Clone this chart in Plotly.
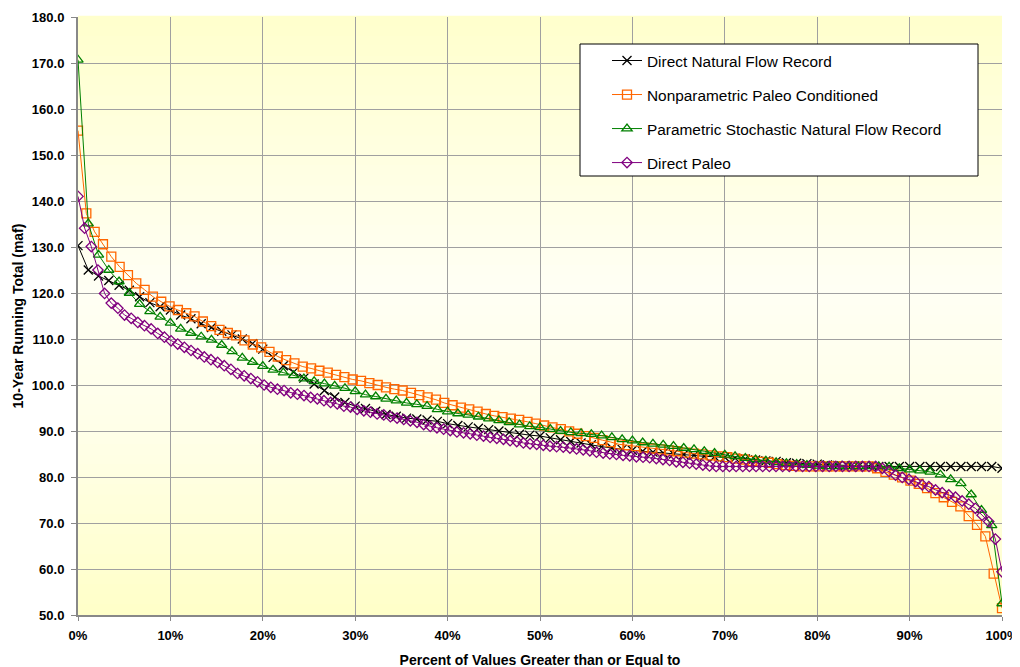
import plotly.graph_objects as go

# ---------------- data ----------------
x_tick_vals = [0, 10, 20, 30, 40, 50, 60, 70, 80, 90, 100]
x_tick_text = ["0%", "10%", "20%", "30%", "40%", "50%", "60%", "70%", "80%", "90%", "100%"]
y_tick_vals = [50, 60, 70, 80, 90, 100, 110, 120, 130, 140, 150, 160, 170, 180]

series_names = [
    "Direct Natural Flow Record",
    "Nonparametric Paleo Conditioned",
    "Parametric Stochastic Natural Flow Record",
    "Direct Paleo",
]

direct_natural = [
    130.3, 125.0, 123.7, 122.7, 121.7, 120.6, 119.2, 117.9, 117.0, 116.3,
    115.2, 114.4, 113.3, 112.5, 111.7, 110.9, 110.0, 109.0, 107.8, 106.0,
    104.2, 102.8, 101.5, 100.2, 98.8, 97.4, 96.2, 95.4, 94.9, 94.3,
    93.6, 93.2, 92.8, 92.6, 92.4, 92.1, 91.6, 91.2, 90.9, 90.6,
    90.3, 90.0, 89.7, 89.3, 89.1, 88.9, 88.5, 88.1, 87.7, 87.4,
    87.0, 86.6, 86.3, 86.0, 85.8, 85.6, 85.4, 85.2, 85.0, 84.9,
    84.7, 84.5, 84.4, 84.3, 84.1, 83.9, 83.7, 83.5, 83.4, 83.1,
    83.0, 82.9, 82.8, 82.6, 82.5, 82.4, 82.3, 82.3, 82.3, 82.3,
    82.3, 82.3, 82.3, 82.3, 82.3, 82.3, 82.3, 82.3, 82.3, 82.3,
    81.9,
]

nonparametric_paleo = [
    155.3, 137.3, 133.3, 130.6, 127.9, 125.7, 123.9, 122.1, 120.7, 119.2,
    118.1, 117.1, 116.3, 115.6, 114.9, 113.8, 112.8, 112.0, 111.3, 110.8,
    109.7, 108.8, 108.2, 107.2, 106.2, 105.4, 104.7, 104.0, 103.6, 103.1,
    102.7, 102.2, 101.7, 101.2, 100.9, 100.4, 100.0, 99.5, 99.1, 98.8,
    98.3, 97.8, 97.3, 96.8, 96.1, 95.6, 95.1, 94.7, 94.2, 93.7,
    93.3, 93.0, 92.7, 92.4, 92.0, 91.6, 91.2, 90.8, 90.4, 89.9,
    89.4, 88.9, 88.5, 88.0, 87.6, 87.1, 86.9, 86.7, 86.4, 86.2,
    86.0, 85.8, 85.6, 85.3, 85.1, 84.9, 84.7, 84.5, 84.3, 84.0,
    83.8, 83.5, 83.3, 83.1, 82.8, 82.6, 82.4, 82.3, 82.3, 82.3,
    82.3, 82.3, 82.3, 82.3, 82.3, 82.3, 81.9, 81.1, 80.5, 79.9,
    79.2, 78.5, 77.6, 76.5, 75.6, 74.6, 73.6, 71.5, 69.6, 67.1,
    59.0, 51.5,
]

parametric_stochastic = [
    170.7, 135.1, 128.3, 125.0, 122.5, 120.0, 117.6, 116.0, 114.8, 113.5,
    112.2, 111.3, 110.5, 109.8, 108.7, 107.3, 105.9, 105.0, 104.1, 103.3,
    102.7, 102.1, 101.4, 100.8, 100.3, 99.8, 99.3, 98.6, 97.9, 97.5,
    97.0, 96.6, 96.1, 95.8, 95.4, 94.7, 94.2, 93.8, 93.5, 93.1,
    92.7, 92.3, 91.9, 91.4, 91.0, 90.8, 90.4, 90.0, 89.7, 89.5,
    89.3, 89.0, 88.6, 88.2, 87.9, 87.5, 87.2, 87.0, 86.7, 86.3,
    86.0, 85.6, 85.2, 84.8, 84.5, 84.1, 83.8, 83.5, 83.2, 83.0,
    82.8, 82.6, 82.4, 82.3, 82.3, 82.3, 82.3, 82.3, 82.3, 82.2,
    81.9, 81.6, 81.4, 81.1, 80.5, 79.5, 78.6, 76.2, 72.8, 69.5,
    52.5,
]

direct_paleo = [
    141.0, 134.1, 130.1, 125.0, 119.9, 117.8, 116.7, 115.2, 114.5, 113.6,
    112.9, 112.2, 111.2, 110.4, 109.6, 108.9, 108.2, 107.5, 106.8, 106.1,
    105.5, 104.9, 104.2, 103.4, 102.5, 102.0, 101.4, 100.7, 100.0, 99.5,
    99.1, 98.8, 98.3, 98.0, 97.7, 97.3, 97.0, 96.6, 96.2, 95.9,
    95.4, 95.2, 94.7, 94.4, 94.1, 93.7, 93.5, 93.1, 92.8, 92.5,
    92.2, 91.9, 91.4, 91.0, 90.7, 90.4, 90.1, 89.8, 89.6, 89.4,
    89.1, 88.9, 88.6, 88.4, 88.2, 87.9, 87.7, 87.4, 87.2, 87.1,
    86.9, 86.7, 86.6, 86.5, 86.3, 86.1, 85.9, 85.7, 85.4, 85.2,
    85.0, 84.9, 84.7, 84.6, 84.4, 84.3, 84.2, 84.0, 83.8, 83.6,
    83.3, 83.2, 83.0, 82.8, 82.6, 82.4,
    82.3, 82.3, 82.3, 82.3, 82.3, 82.3, 82.3, 82.3, 82.3, 82.3,
    82.3, 82.3, 82.3, 82.3, 82.3, 82.3, 82.3, 82.3, 82.3, 82.3,
    82.3, 82.3, 82.3, 82.3, 82.3,
    81.9, 81.2, 80.4, 79.9, 79.5, 79.0, 78.3, 77.9, 77.2, 76.6,
    76.1, 75.6, 74.8, 74.1, 73.2, 71.7, 70.3, 66.5, 59.4,
]

series_values = [direct_natural, nonparametric_paleo, parametric_stochastic, direct_paleo]

# ---------------- styles ----------------
colors = ["#000000", "#FF6600", "#008000", "#800080"]
symbols = ["x-thin-open", "square-open", "triangle-up-open", "diamond-open"]
sizes = [9, 9, 9, 8]
FONT = "Arial, 'Liberation Sans', sans-serif"

# the page body has an 8px margin, so figure coords = page coords - 8
OFF = 8
W, H = 1020, 667
L, T = 78 - OFF, 17 - OFF
R = W - (1002 - OFF)
B = H - (615 - OFF)
PW, PH = W - L - R, H - T - B


def percent_positions(n):
    return [i * 100.0 / (n - 1) for i in range(n)]


fig = go.Figure()
for name, vals, col, sym, sz in zip(series_names, series_values, colors, symbols, sizes):
    fig.add_trace(go.Scatter(
        x=percent_positions(len(vals)), y=vals, name=name, mode="lines+markers",
        line=dict(color=col, width=1),
        marker=dict(symbol=sym, size=sz, color=col, line=dict(color=col, width=1.3)),
        legendgroup=name, hoverinfo="skip",
    ))

# gradient plot background (pale yellow -> near white -> yellow)
stops = [(0.0, (255, 255, 204)), (0.45, (255, 255, 244)), (0.7, (255, 255, 232)), (1.0, (255, 255, 200))]


def grad_color(t):
    for (t0, c0), (t1, c1) in zip(stops[:-1], stops[1:]):
        if t0 <= t <= t1:
            f = (t - t0) / (t1 - t0)
            return "rgb(%d,%d,%d)" % tuple(round(a + (b - a) * f) for a, b in zip(c0, c1))
    return "rgb(255,255,204)"


def px_x(px):  # page pixel -> paper fraction
    return (px - OFF - L) / PW


def px_y(py):
    return (H - B - (py - OFF)) / PH


nb = 60
shapes = []
for i in range(nb):
    y1 = 1 - i / nb
    y0 = 1 - (i + 1) / nb
    shapes.append(dict(type="rect", xref="paper", yref="paper", x0=0, x1=1, y0=y0, y1=y1 + 0.002,
                       fillcolor=grad_color((i + 0.5) / nb), line=dict(width=0), layer="below"))

# legend frame
shapes.append(dict(type="rect", xref="paper", yref="paper",
                   x0=px_x(580), x1=px_x(978), y0=px_y(176), y1=px_y(44),
                   fillcolor="white", line=dict(color="black", width=1), layer="above"))

fig.update_layout(
    width=W, height=H,
    margin=dict(l=L, r=R, t=T, b=B),
    paper_bgcolor="white", plot_bgcolor="white",
    shapes=shapes,
    font=dict(family=FONT, color="black"),
    showlegend=True,
    legend=dict(
        x=px_x(583), y=px_y(44), xanchor="left", yanchor="top",
        bgcolor="rgba(0,0,0,0)", borderwidth=0,
        font=dict(family=FONT, size=15.4, color="black"),
        tracegroupgap=11, indentation=24,
        traceorder="grouped",
    ),
    xaxis=dict(
        range=[0, 100], tickmode="array", tickvals=x_tick_vals, ticktext=x_tick_text,
        showgrid=True, gridcolor="#A0A0A0", gridwidth=1,
        showline=True, linecolor="#888888", linewidth=2,
        ticks="outside", ticklen=4, tickcolor="#888888",
        tickfont=dict(family=FONT, size=13, color="black", weight="bold"),
        ticklabelstandoff=3,
        title=dict(text="<b>Percent of Values Greater than or Equal to</b>",
                   font=dict(family=FONT, size=14, color="black"), standoff=14),
        zeroline=False, automargin=False,
    ),
    yaxis=dict(
        range=[50, 180], tickmode="array", tickvals=y_tick_vals, tickformat=".1f",
        showgrid=True, gridcolor="#A0A0A0", gridwidth=1,
        showline=True, linecolor="#888888", linewidth=2,
        ticks="outside", ticklen=5, tickcolor="#888888",
        tickfont=dict(family=FONT, size=13, color="black", weight="bold"),
        ticklabelstandoff=4,
        title=dict(text="<b>10-Year Running Total (maf)</b>",
                   font=dict(family=FONT, size=14, color="black"), standoff=5),
        zeroline=False, automargin=False,
    ),
)

fig.write_html("out.html")
